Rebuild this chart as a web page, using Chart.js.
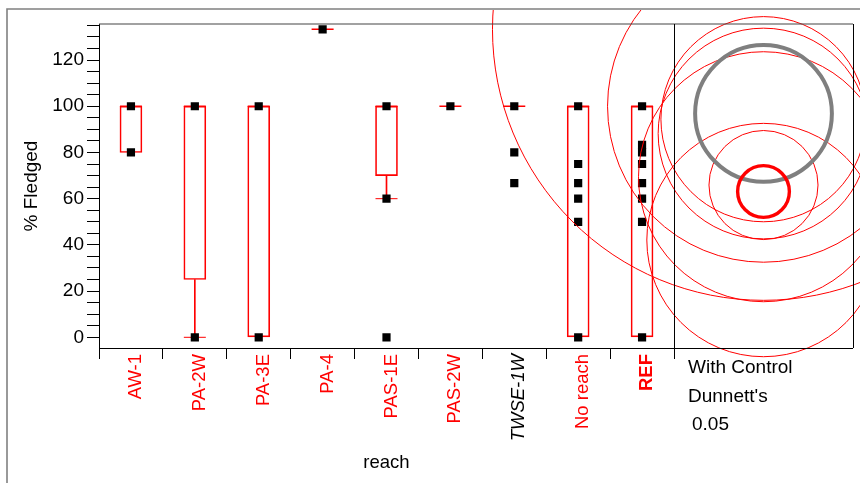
<!DOCTYPE html>
<html>
<head>
<meta charset="utf-8">
<script src="https://cdn.jsdelivr.net/npm/chart.js@4.4.0/dist/chart.umd.min.js"></script>
<style>
  html, body { margin: 0; padding: 0; background: #fff; }
  #wrap { width: 860px; height: 483px; }
</style>
</head>
<body>
<div id="wrap"><canvas id="c" width="860" height="483"></canvas></div>
<script>
const reaches = ['AW-1', 'PA-2W', 'PA-3E', 'PA-4', 'PAS-1E', 'PAS-2W', 'TWSE-1W', 'No reach', 'REF'];

// % fledged per nest, one list per reach
const fledged = [
  [100, 80],
  [100, 0],
  [100, 0],
  [133.3],
  [100, 60, 0],
  [100],
  [100, 80, 66.7],
  [100, 75, 66.7, 60, 50, 0],
  [100, 83.3, 80, 75, 66.7, 60, 50, 0]
];

// box plot pieces
const quartiles = [[80, 100], [25, 100], [0, 100], null, [70, 100], null, null, [0, 100], [0, 100]];
const whiskers = [null, [0, 25], null, null, [60, 70], null, null, null, null];
const whiskerCaps = [null, 0, null, null, 60, null, null, null, null];
const medians = [100, 100, 100, 133.3, 100, 100, 100, 100, 100];

// comparison circles, Dunnett's with control (REF), alpha 0.05
const circleMeans = [94.4, 69.5, 42.1, 133.3, 88.2, 100, 96.9, 65.9, 63.1];
const circleRadii = [44.4, 54.1, 50.5, 117.3, 45.6, 67.5, 29.6, 23.6, 11.2];

const yTicks = [0, 5, 10, 15, 20, 25, 30, 35, 40, 45, 50, 55, 60, 65, 70, 75, 80, 85, 90, 95, 100, 105, 110, 115, 120, 125, 130, 135];

const RED = '#ff0000';
const FONT = '"Liberation Sans", Arial, Helvetica, sans-serif';
Chart.defaults.font.family = FONT;
Chart.defaults.color = '#000';

const points = [];
fledged.forEach((vals, i) => {
  vals.forEach(v => points.push({ x: reaches[i], y: v }));
});

const panelPlugin = {
  id: 'panel',
  afterDatasetsDraw(chart) {
    const ctx = chart.ctx;
    const area = chart.chartArea;
    const y = chart.scales.y;
    const panelLeft = area.right;
    const panelRight = chart.width - 7;
    const cx = (panelLeft + panelRight) / 2;
    const pxPerUnit = Math.abs(y.getPixelForValue(0) - y.getPixelForValue(1));

    ctx.save();
    ctx.beginPath();
    ctx.rect(8, 10, chart.width - 8, chart.height - 10);
    ctx.clip();
    const order = [];
    reaches.forEach((r, i) => { if (r !== 'REF' && r !== 'TWSE-1W') order.push(i); });
    order.push(reaches.indexOf('TWSE-1W'), reaches.indexOf('REF'));
    order.forEach(i => {
      const cy = y.getPixelForValue(circleMeans[i]);
      const rad = circleRadii[i] * pxPerUnit;
      ctx.beginPath();
      ctx.arc(cx, cy, rad, 0, Math.PI * 2);
      if (reaches[i] === 'REF') { ctx.strokeStyle = RED; ctx.lineWidth = 3.4; }
      else if (reaches[i] === 'TWSE-1W') { ctx.strokeStyle = '#7f7f7f'; ctx.lineWidth = 4; }
      else { ctx.strokeStyle = RED; ctx.lineWidth = 1; }
      ctx.stroke();
    });
    ctx.restore();

    ctx.save();
    // outer frame
    ctx.strokeStyle = '#808080';
    ctx.lineWidth = 1.6;
    ctx.beginPath();
    ctx.moveTo(7, chart.height);
    ctx.lineTo(7, 9);
    ctx.lineTo(chart.width, 9);
    ctx.stroke();
    // plot top and circle panel
    ctx.strokeStyle = '#444';
    ctx.lineWidth = 1.2;
    ctx.beginPath();
    ctx.moveTo(area.left, area.top);
    ctx.lineTo(panelRight, area.top);
    ctx.stroke();
    ctx.strokeStyle = '#000';
    ctx.lineWidth = 1;
    ctx.beginPath();
    ctx.moveTo(panelLeft + 0.5, area.top);
    ctx.lineTo(panelLeft + 0.5, area.bottom + 3);
    ctx.moveTo(panelRight + 0.5, area.top);
    ctx.lineTo(panelRight + 0.5, area.bottom);
    ctx.moveTo(panelLeft, area.bottom + 0.5);
    ctx.lineTo(panelRight, area.bottom + 0.5);
    ctx.stroke();

    ctx.fillStyle = '#000';
    ctx.font = '19px ' + FONT;
    ctx.textBaseline = 'middle';
    ctx.textAlign = 'left';
    ctx.fillText('With Control', panelLeft + 14, 368);
    ctx.fillText("Dunnett's", panelLeft + 14, 397);
    ctx.fillText('0.05', panelLeft + 18, 425);
    ctx.restore();
  }
};

new Chart(document.getElementById('c'), {
  type: 'bar',
  data: {
    labels: reaches,
    datasets: [
      {
        type: 'line',
        data: points,
        showLine: false,
        pointStyle: 'rect',
        pointRadius: 5.8,
        pointBackgroundColor: '#000',
        pointBorderWidth: 0
      },
      {
        type: 'line',
        data: medians,
        showLine: false,
        pointStyle: 'line',
        pointRadius: 11,
        pointBorderColor: RED,
        pointBorderWidth: 1.5
      },
      {
        type: 'line',
        data: whiskerCaps,
        showLine: false,
        pointStyle: 'line',
        pointRadius: 11,
        pointBorderColor: RED,
        pointBorderWidth: 1
      },
      {
        data: quartiles,
        grouped: false,
        barThickness: 22,
        backgroundColor: 'rgba(0,0,0,0)',
        borderColor: RED,
        borderWidth: 1,
        borderSkipped: false
      },
      {
        data: whiskers,
        grouped: false,
        barThickness: 1,
        backgroundColor: RED,
        borderWidth: 0
      }
    ]
  },
  options: {
    responsive: false,
    animation: false,
    devicePixelRatio: 1,
    layout: { padding: { left: 0, right: 186, top: 24, bottom: 0 } },
    plugins: { legend: { display: false }, tooltip: { enabled: false } },
    scales: {
      x: {
        type: 'category',
        offset: true,
        grid: { offset: true, drawOnChartArea: false, tickLength: 11, tickColor: '#000' },
        border: { display: true, color: '#000', width: 1 },
        ticks: {
          autoSkip: false,
          minRotation: 90,
          maxRotation: 90,
          padding: -5,
          labelOffset: 5,
          color: c => reaches[c.index] === 'TWSE-1W' ? '#000' : RED,
          font: c => ({
            size: 18.5,
            style: reaches[c.index] === 'TWSE-1W' ? 'italic' : 'normal',
            weight: reaches[c.index] === 'REF' ? 'bold' : 'normal'
          })
        },
        title: { display: true, text: 'reach', font: { size: 18.5 }, padding: { top: 0, bottom: 9 } },
        afterFit: s => { s.height = 135; }
      },
      y: {
        type: 'linear',
        min: -4.63,
        max: 135.6,
        afterBuildTicks: s => { s.ticks = yTicks.map(v => ({ value: v })); },
        grid: { drawOnChartArea: false, tickLength: 12, tickColor: '#000' },
        border: { display: true, color: '#000', width: 1 },
        ticks: {
          autoSkip: false,
          padding: 3,
          font: { size: 19 },
          callback: v => (v % 20 === 0 ? v : '')
        },
        title: { display: true, text: '% Fledged', font: { size: 19 }, padding: { top: 20 } },
        afterFit: s => { s.width = 99; }
      }
    }
  },
  plugins: [panelPlugin]
});
</script>
</body>
</html>
